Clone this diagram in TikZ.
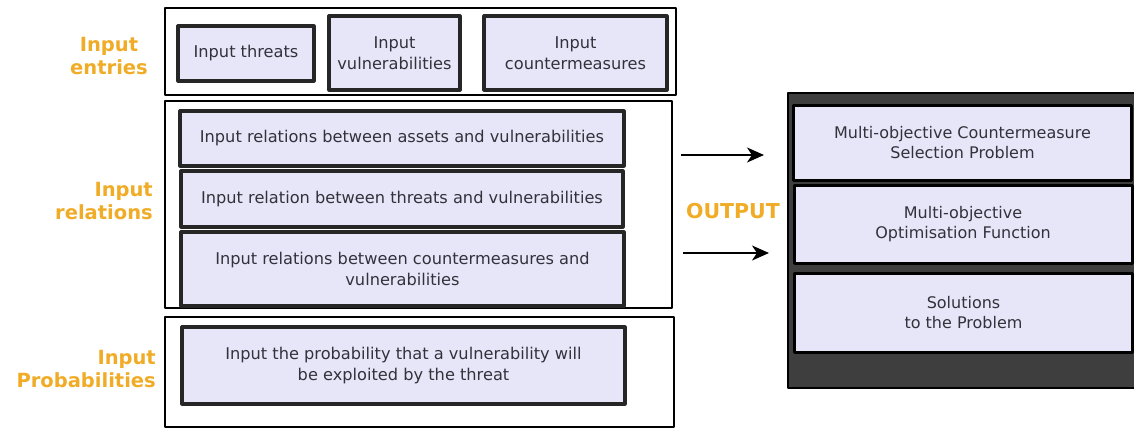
\documentclass[tikz,border=0pt]{standalone}
\usepackage{fontspec}
\setmainfont{DejaVu Sans}
\usepackage{tikz}
\usetikzlibrary{arrows.meta}
\definecolor{boxfill}{RGB}{230,230,248}
\definecolor{boxtext}{RGB}{50,50,60}
\definecolor{tagcolor}{RGB}{240,172,38}
\definecolor{panelgray}{RGB}{62,62,62}

\begin{document}
\begin{tikzpicture}[x=1pt,y=-1pt,join=round, % Input groups and output panel
  group/.style={draw=black,line width=2pt,fill=white,minimum width=#1},
  entry/.style={draw=black!85,line width=3.2pt,fill=boxfill,text=boxtext,align=center,
    inner sep=0pt,font=\fontsize{16.2}{21}\selectfont},
  resultbox/.style={draw=black,line width=3pt,fill=boxfill,text=boxtext,align=center,
    inner sep=0pt,font=\fontsize{16}{20.5}\selectfont,minimum width=338pt},
  tag/.style={text=tagcolor,font=\fontsize{19.5}{23}\selectfont\bfseries,inner sep=0pt},
  flow/.style={-{Stealth[length=17pt,width=15pt,inset=5pt]},line width=2.4pt}]
  \useasboundingbox (0,0) rectangle (1134,428);

  % left groups
  \node[group=511pt,minimum height=87pt] (entries) at (420.5,51.5) {};
  \node[group=507pt,minimum height=207pt] (relations) at (418.5,204.5) {};
  \node[group=509pt,minimum height=110pt] (probs) at (419.5,372) {};

  \node[entry,minimum width=136pt,minimum height=55pt] (threats) at (246,53.5) {Input threats};
  \node[entry,minimum width=131pt,minimum height=74pt] (vulns) at (394.5,53) {Input\\vulnerabilities};
  \node[entry,minimum width=183pt,minimum height=74pt] (counters) at (575.5,53) {Input\\countermeasures};

  \node[entry,minimum width=444pt,minimum height=55pt] (assetrel) at (402,138.5) {Input relations between assets and vulnerabilities};
  \node[entry,minimum width=442pt,minimum height=56pt] (threatrel) at (402,199) {Input relation between threats and vulnerabilities};
  \node[entry,minimum width=443pt,minimum height=74pt] (counterrel) at (402.5,269) {Input relations between countermeasures and\\vulnerabilities};

  \node[entry,minimum width=443pt,minimum height=77pt] (probability) at (403.5,365.5) {Input the probability that a vulnerability will\\be exploited by the threat};

  \node[tag,align=center] (entrytag) at (109,56) {Input\\entries};
  \node[tag,align=right,anchor=east] (relationtag) at (153,201) {Input\\relations};
  \node[tag,align=right,anchor=east] (probtag) at (156,369) {Input\\Probabilities};

  % output panel
  \node[draw=black,line width=2.5pt,fill=panelgray,minimum width=348pt,minimum height=295pt] (panel) at (962,240.5) {};
  \node[resultbox,minimum height=75pt] (problem) at (962.5,142.5) {Multi-objective Countermeasure\\Selection Problem};
  \node[resultbox,minimum height=78pt] (function) at (963,224) {Multi-objective\\Optimisation Function};
  \node[resultbox,minimum height=79pt] (solutions) at (963.5,312.5) {Solutions\\to the Problem};

  \node[tag,font=\fontsize{20.5}{23}\selectfont\bfseries] (outtag) at (733,211) {OUTPUT};

  \coordinate (fromA) at (681,155);
  \coordinate (toA) at (764,155);
  \coordinate (fromB) at (683,253);
  \coordinate (toB) at (769,253);
  \draw[flow] (fromA) -- (toA);
  \draw[flow] (fromB) -- (toB);
\end{tikzpicture}
\end{document}
